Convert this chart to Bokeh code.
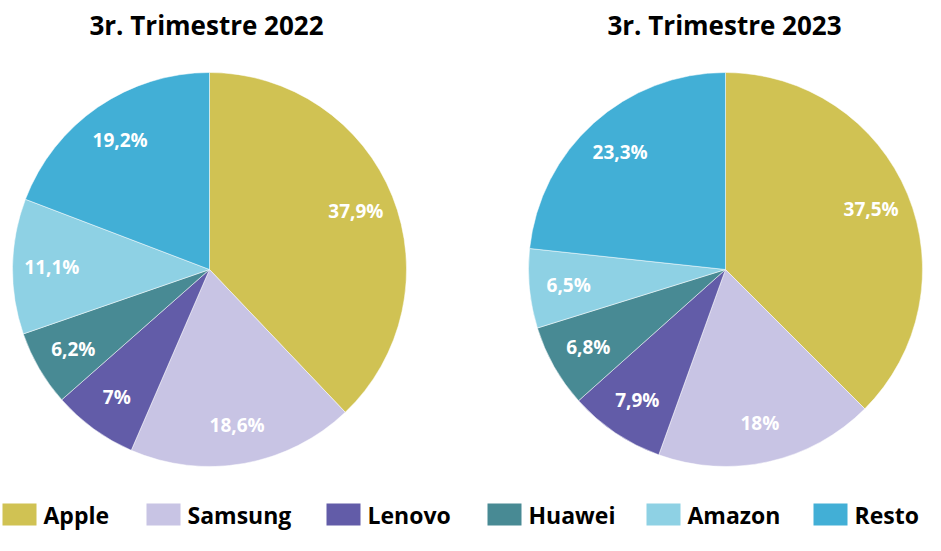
import math
from bokeh.plotting import figure
from bokeh.models import Range1d, ColumnDataSource
from bokeh.core.properties import value
from bokeh.embed import file_html
from bokeh.resources import INLINE

brands = ["Apple", "Samsung", "Lenovo", "Huawei", "Amazon", "Resto"]
colors = ["#D0C253", "#C8C4E4", "#625CA8", "#488A94", "#8ED1E4", "#42AFD6"]
titles = ["3r. Trimestre 2022", "3r. Trimestre 2023"]
share_2022 = [37.9, 18.6, 7.0, 6.2, 11.1, 19.2]
share_2023 = [37.5, 18.0, 7.9, 6.8, 6.5, 23.3]
series = [share_2022, share_2023]

W, H = 925, 535
TOP = 551
FONT = "Open Sans"

p = figure(width=W, height=H, output_backend="svg", toolbar_location=None,
           x_range=Range1d(0, W), y_range=Range1d(TOP - H, TOP),
           min_border=0, match_aspect=False)
p.axis.visible = False
p.grid.visible = False
p.outline_line_color = None
p.background_fill_color = "white"
p.border_fill_color = "white"

def fmt(v):
    s = ("%.1f" % v).rstrip("0").rstrip(".")
    return s.replace(".", ",") + "%"

centers_x = [209, 725]
title_x = [206, 724]
cy = TOP - 269
R = 197
for k, vals in enumerate(series):
    cx = centers_x[k]
    total = sum(vals)
    starts, ends, lx, ly, labels = [], [], [], [], []
    cum = 0.0
    for v in vals:
        a0 = math.pi / 2 - cum / total * 2 * math.pi
        cum += v
        a1 = math.pi / 2 - cum / total * 2 * math.pi
        starts.append(a0)
        ends.append(a1)
        mid = (a0 + a1) / 2
        rr = 0.8 * R
        lx.append(cx + rr * math.cos(mid))
        ly.append(cy + rr * math.sin(mid))
        labels.append(fmt(v))
    src = ColumnDataSource(dict(start=starts, end=ends, color=colors,
                                lx=lx, ly=ly, label=labels))
    p.wedge(x=cx, y=cy, radius=R, start_angle="start", end_angle="end",
            direction="clock", fill_color="color", line_color="white",
            line_width=0.5, source=src)
    p.text(x="lx", y="ly", text="label", source=src, text_color="white",
           text_font=value(FONT), text_font_style="bold",
           text_font_size="19px", text_align="center",
           text_baseline="middle")
    p.text(x=[title_x[k]], y=[TOP - 24], text=[titles[k]], text_color="black",
           text_font=value(FONT), text_font_style="bold",
           text_font_size="26px", text_align="center",
           text_baseline="middle")

# legend
leg_x = [2, 146, 326, 487, 646, 813]
leg_top = TOP - 503
p.quad(left=leg_x, right=[x + 34 for x in leg_x],
       top=[leg_top] * 6, bottom=[leg_top - 22] * 6,
       fill_color=colors, line_color=None)
p.text(x=[x + 41 for x in leg_x], y=[leg_top - 11] * 6, text=brands,
       text_color="black", text_font=value(FONT), text_font_style="bold",
       text_font_size="23px", text_align="left", text_baseline="middle")

open("out.html", "w").write(file_html(p, INLINE))
